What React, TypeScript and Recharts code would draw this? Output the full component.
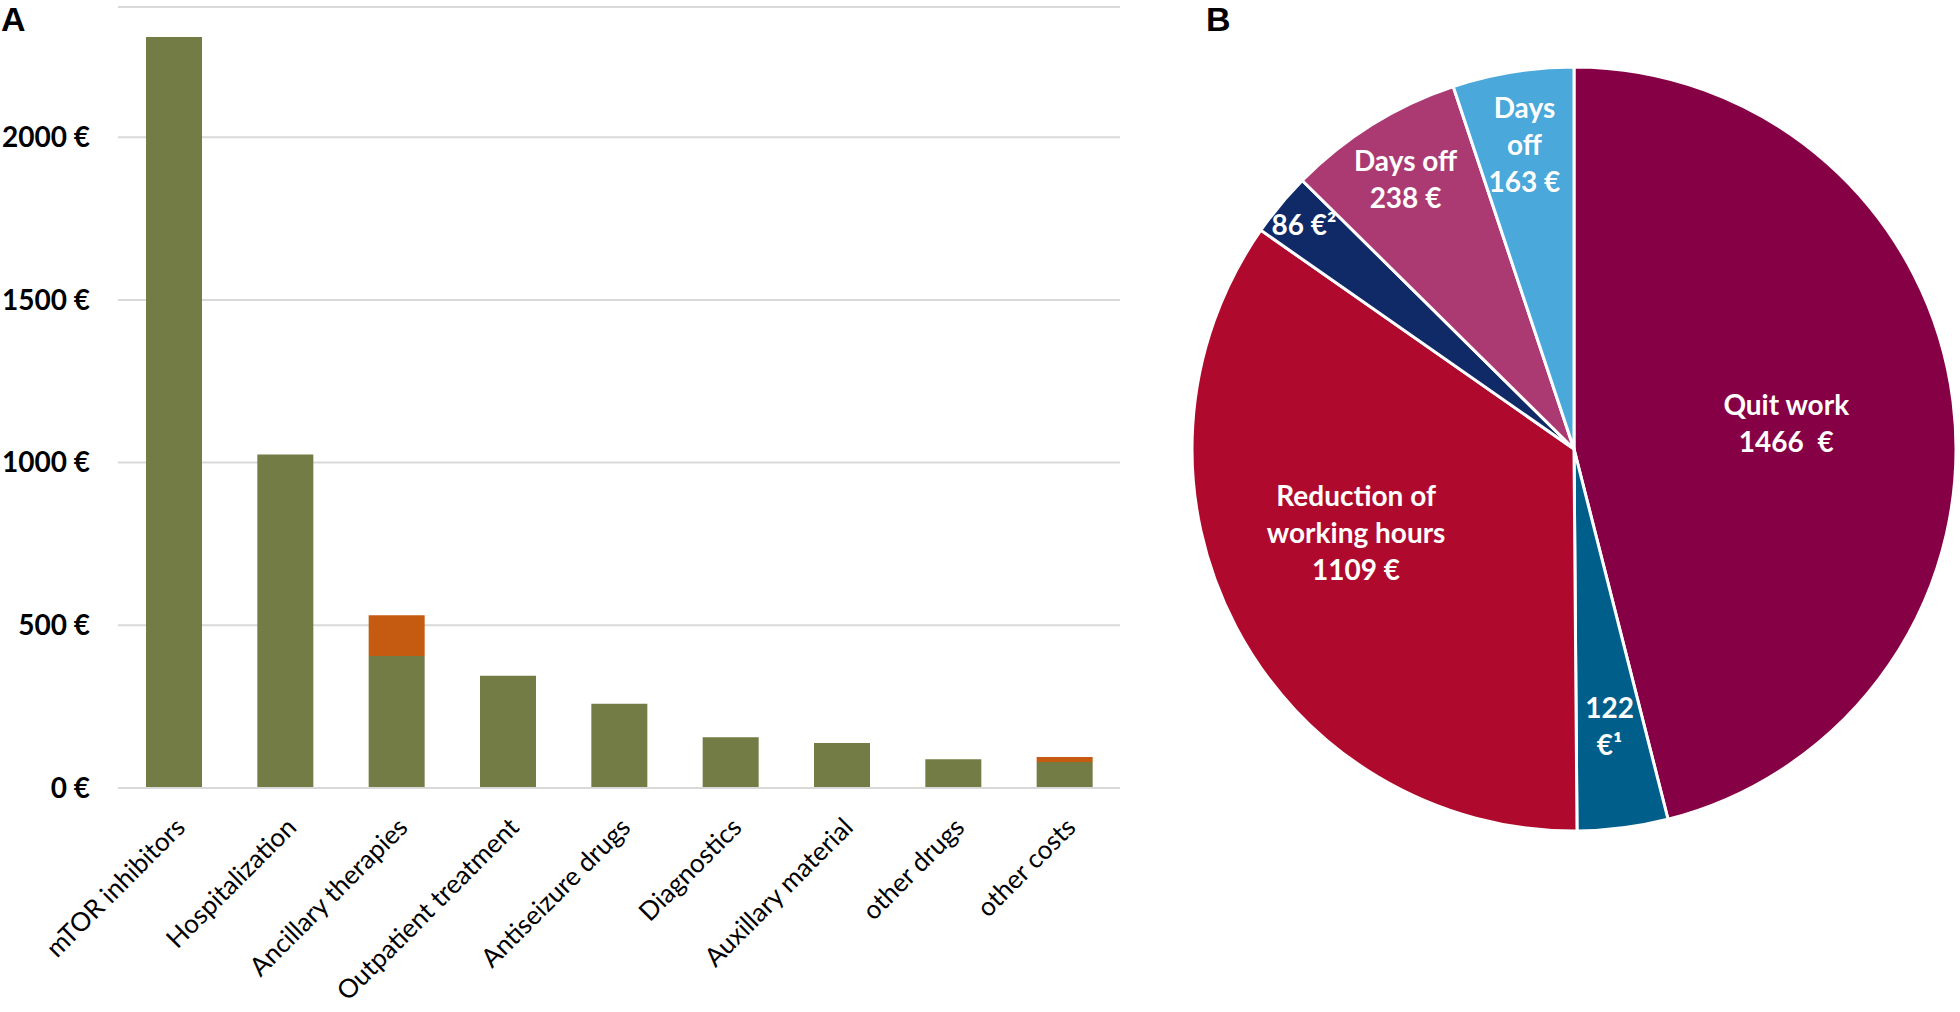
import React from 'react';
import { BarChart, Bar, XAxis, YAxis, CartesianGrid, PieChart, Pie, Cell } from 'recharts';

// Panel A: direct costs per category (green) plus additional part (orange)
const categories = [
  'mTOR inhibitors',
  'Hospitalization',
  'Ancillary therapies',
  'Outpatient treatment',
  'Antiseizure drugs',
  'Diagnostics',
  'Auxillary material',
  'other drugs',
  'other costs',
];
const baseCosts = [2308, 1025, 406, 345, 259, 156, 138, 88, 80];
const extraCosts = [0, 0, 125, 0, 0, 0, 0, 0, 15];
const yTicks = [0, 500, 1000, 1500, 2000];

// Panel B: indirect costs, clockwise from 12 o'clock
const pieNames = ['Quit work', '122 €¹', 'Reduction of working hours', '86 €²', 'Days off 238', 'Days off 163'];
const pieValues = [1466, 122, 1109, 86, 238, 163];
const pieLabelLines = [
  ['Quit work', '1466  €'],
  ['122', '€¹'],
  ['Reduction of', 'working hours', '1109 €'],
  ['86 €²'],
  ['Days off', '238 €'],
  ['Days', 'off', '163 €'],
];

const pieColors = ['#860045', '#005E8A', '#AF0A2E', '#0F2A67', '#AB3A73', '#4AA8DA'];
const labelRadius = [0.56, 0.73, 0.61, 0.92, 0.835, 0.81];
const labelAngleShift = [0, 0, -7, 0, 0, 0];

const barData = categories.map((name, i) => ({ name, base: baseCosts[i], extra: extraCosts[i] }));
const pieData = pieNames.map((name, i) => ({ name, value: pieValues[i] }));

const FONT = 'Lato, "Open Sans", sans-serif';

const YTick = (props: any) => {
  const { x, y, payload } = props;
  return (
    <text x={x} y={y} dy="0.35em" textAnchor="end" fontSize={28} fontWeight="bold" fill="#000" fontFamily={FONT}>
      {`${payload.value} €`}
    </text>
  );
};

const XTick = (props: any) => {
  const { x, y, payload } = props;
  const ax = x + 13;
  const ay = y + 41;
  return (
    <text
      x={ax}
      y={ay}
      textAnchor="end"
      transform={`rotate(-45, ${ax}, ${ay})`}
      fontSize={26}
      fill="#000"
      fontFamily={FONT}
    >
      {payload.value}
    </text>
  );
};

const renderPieLabel = (props: any) => {
  const { cx, cy, midAngle, outerRadius, index } = props;
  const ang = ((midAngle + labelAngleShift[index]) * Math.PI) / 180;
  const r = outerRadius * labelRadius[index];
  const lx = cx + r * Math.cos(ang);
  const ly = cy - r * Math.sin(ang);
  const lines = pieLabelLines[index];
  const lh = 37;
  const y0 = ly - ((lines.length - 1) * lh) / 2;
  return (
    <text
      x={lx}
      y={y0}
      textAnchor="middle"
      dominantBaseline="central"
      fill="#fff"
      fontSize={28}
      fontWeight="bold"
      fontFamily={FONT}
      style={{ whiteSpace: 'pre' }}
    >
      {lines.map((l, i) => (
        <tspan key={i} x={lx} y={y0 + i * lh}>
          {l}
        </tspan>
      ))}
    </text>
  );
};

const panelLetter: React.CSSProperties = {
  position: 'absolute',
  top: 2,
  fontFamily: '"Liberation Sans", Arial, sans-serif',
  fontWeight: 'bold',
  fontSize: 34,
  lineHeight: '34px',
  color: '#000',
};

export default function App() {
  return (
    <div style={{ position: 'absolute', left: 0, top: 0, width: 1960, height: 1012, background: '#fff', overflow: 'hidden' }}>
      <div style={{ position: 'absolute', left: 0, top: 0 }}>
        <BarChart width={1130} height={1012} data={barData} margin={{ top: 7, right: 10, left: 0, bottom: 0 }}>
          <CartesianGrid vertical={false} stroke="#D9D9D9" strokeWidth={2} />
          <XAxis
            dataKey="name"
            interval={0}
            height={224}
            tickLine={false}
            tickSize={0}
            tickMargin={0}
            axisLine={{ stroke: '#D9D9D9', strokeWidth: 2 }}
            tick={<XTick />}
          />
          <YAxis
            width={118}
            domain={[0, 2400]}
            ticks={yTicks}
            axisLine={false}
            tickLine={false}
            tickSize={0}
            tickMargin={28}
            tick={<YTick />}
          />
          <Bar dataKey="base" stackId="a" fill="#737C44" barSize={56} isAnimationActive={false} />
          <Bar dataKey="extra" stackId="a" fill="#C55A11" barSize={56} isAnimationActive={false} />
        </BarChart>
      </div>
      <div style={{ position: 'absolute', left: 1130, top: 0 }}>
        <PieChart width={830} height={1012} margin={{ top: 0, right: 0, left: 0, bottom: 0 }}>
          <Pie
            data={pieData}
            dataKey="value"
            nameKey="name"
            cx={444}
            cy={449}
            outerRadius={382}
            startAngle={90}
            endAngle={-270}
            stroke="#fff"
            strokeWidth={3}
            label={renderPieLabel}
            labelLine={false}
            isAnimationActive={false}
          >
            {pieData.map((entry, i) => (
              <Cell key={entry.name} fill={pieColors[i]} />
            ))}
          </Pie>
        </PieChart>
      </div>
      <div style={{ ...panelLetter, left: 1 }}>A</div>
      <div style={{ ...panelLetter, left: 1206 }}>B</div>
    </div>
  );
}
